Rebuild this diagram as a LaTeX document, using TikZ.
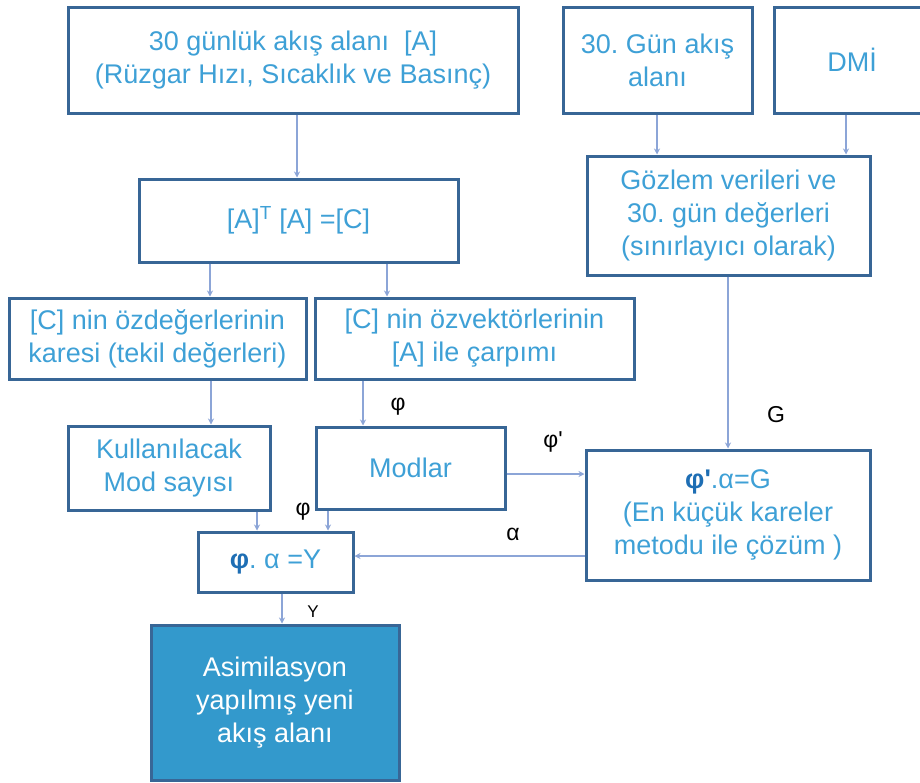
\documentclass[tikz,border=0pt]{standalone}
\usepackage{fontspec}
\setmainfont{Liberation Sans}
\usetikzlibrary{arrows.meta}
\frenchspacing
\definecolor{bordc}{RGB}{56,102,150}
\definecolor{txtc}{RGB}{62,160,214}
\definecolor{arrc}{RGB}{140,165,215}
\definecolor{fillc}{RGB}{51,153,204}
\definecolor{phic}{RGB}{30,110,180}
\tikzset{
  box/.style={draw=bordc, line width=3pt, rectangle, inner sep=0pt, align=center,
    text=txtc, font=\fontsize{27}{33}\selectfont},
  conn/.style={draw=arrc, line width=2pt, -{Stealth[length=6pt,width=6pt]}},
  lbl/.style={text=black, font=\fontsize{23}{25}\selectfont, inner sep=0pt}
}
\newcommand{\bx}[6]{%
  \node[box, minimum width={#4-#2}, minimum height={#5-#3}] (#1) at ({(#2+#4)/2},{(#3+#5)/2}) {#6};}
\begin{document}
\begin{tikzpicture}[x=1pt,y=-1pt]
\useasboundingbox (0,0) rectangle (920,782);
\bx{A}{68}{7}{518}{113}{30 günlük akış alanı \ [A]\\(Rüzgar Hızı, Sıcaklık ve Basınç)}
\bx{C}{139}{179}{458}{262}{[A]\textsuperscript{T} [A] =[C]}
\bx{G30}{563}{7}{752}{113}{30. Gün akış\\alanı}
\bx{DMI}{774}{7}{930}{113}{DMİ}
\bx{Goz}{587}{156}{870}{275}{Gözlem verileri ve\\30. gün değerleri\\(sınırlayıcı olarak)}
\bx{Oz}{9}{298}{306}{379}{[C] nin özdeğerlerinin\\karesi (tekil değerleri)}
\bx{Ov}{315}{298}{634}{379}{[C] nin özvektörlerinin\\{}[A] ile çarpımı}
\bx{K}{68}{426}{270}{510}{Kullanılacak\\Mod sayısı}
\bx{M}{316}{427}{505}{509}{Modlar}
\bx{Gb}{586}{450}{870}{580}{{\color{phic}\bfseries φ\textquotesingle}.α=G\\(En küçük kareler\\metodu ile çözüm )}
\bx{Y}{198}{532}{353}{592}{{\color{phic}\bfseries φ}. α =Y}
\node[box, fill=fillc, text=white, minimum width=248, minimum height=155] (S) at (275,702.5) {Asimilasyon\\yapılmış yeni\\akış alanı};
% connectors
\draw[conn] (A.south -| 297,0) -- (C.north -| 297,0);
\draw[conn] (C.south -| 210,0) -- (Oz.north -| 210,0);
\draw[conn] (C.south -| 387,0) -- (Ov.north -| 387,0);
\draw[conn] (G30.south -| 657,0) -- (Goz.north -| 657,0);
\draw[conn] (DMI.south -| 846,0) -- (Goz.north -| 846,0);
\draw[conn] (Goz.south -| 728,0) -- (Gb.north -| 728,0);
\draw[conn] (Oz.south -| 211,0) -- (K.north -| 211,0);
\draw[conn] (Ov.south -| 363,0) -- (M.north -| 363,0);
\draw[conn] (K.south -| 257,0) -- (Y.north -| 257,0);
\draw[conn] (M.south -| 328,0) -- (Y.north -| 328,0);
\draw[conn] (M.east |- 0,474) -- (Gb.west |- 0,474);
\draw[conn] (Gb.west |- 0,556) -- (Y.east |- 0,556);
\draw[conn] (Y.south -| 282,0) -- (S.north -| 282,0);
% labels
\node[lbl] (l1) at (398,407) {φ};
\node[lbl] (l2) at (303,512) {φ};
\node[lbl] (l3) at (553,442) {φ\textquotesingle};
\node[lbl] (l4) at (513,534) {α};
\node[lbl] (l5) at (776,415) {G};
\node[lbl, font=\fontsize{17}{18}\selectfont] (l6) at (313,612) {Y};
\end{tikzpicture}
\end{document}
